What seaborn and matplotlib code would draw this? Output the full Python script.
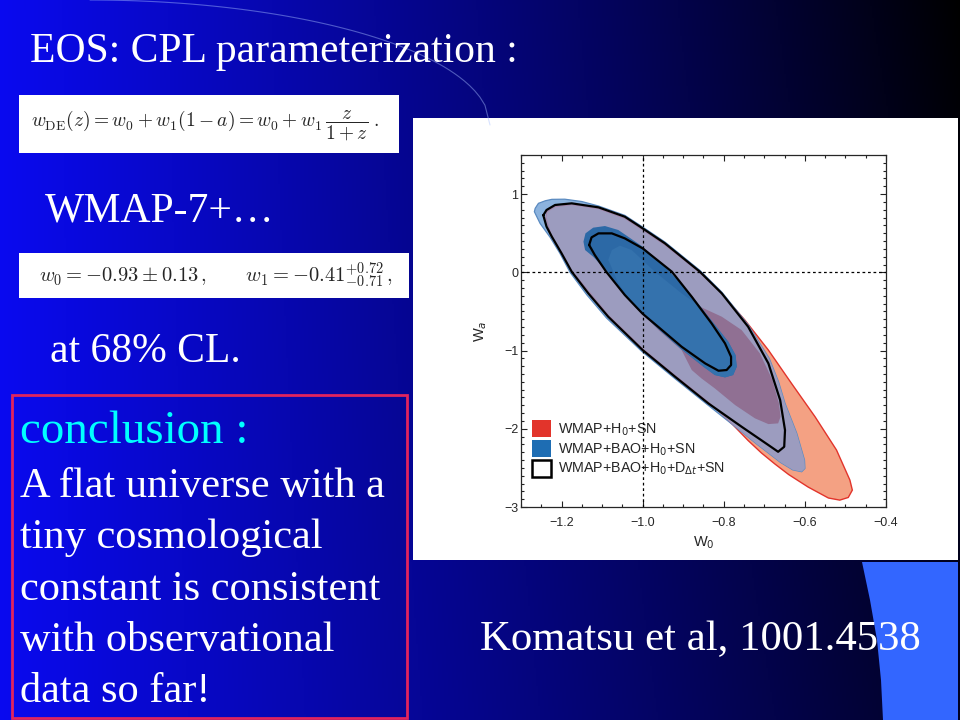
import numpy as np
import pandas as pd
import matplotlib
matplotlib.use("Agg")
import matplotlib.pyplot as plt
from matplotlib.patches import Patch, Rectangle, Polygon
from matplotlib.ticker import MultipleLocator
import seaborn as sns

sns.set_style("ticks")
plt.rcParams["font.family"] = ["Liberation Sans", "DejaVu Sans"]
SERIF = ["Liberation Serif", "DejaVu Serif"]

# ── Contours (w0, wa) ─────────────────────────────────────────────────────
# WMAP+H0+SN, 95% and 68%
red95_w0 = [-1.239, -1.236, -1.216, -1.175, -1.109, -1.044, -1.000, -0.945, -0.859, -0.805,
            -0.748, -0.690, -0.633, -0.575, -0.522, -0.489, -0.483, -0.493, -0.514, -0.542,
            -0.592, -0.640, -0.674, -0.707, -0.740, -0.781, -0.838, -0.920, -1.000, -1.085,
            -1.175, -1.224]
red95_wa = [0.700, 0.775, 0.839, 0.865, 0.814, 0.690, 0.541, 0.349, -0.005, -0.275,
            -0.610, -0.994, -1.420, -1.846, -2.272, -2.656, -2.784, -2.878, -2.912, -2.885,
            -2.745, -2.585, -2.450, -2.310, -2.150, -1.930, -1.659, -1.318, -0.977, -0.546,
            0.021, 0.447]
red68_w0 = [-1.085, -1.076, -1.056, -1.027, -0.970, -0.904, -0.855, -0.805, -0.756, -0.711,
            -0.680, -0.664, -0.660, -0.666, -0.690, -0.723, -0.772, -0.822, -0.855, -0.879,
            -0.904, -0.961, -1.019, -1.060, -1.081]
red68_wa = [0.157, 0.285, 0.341, 0.285, 0.008, -0.269, -0.448, -0.567, -0.738, -1.036,
            -1.377, -1.676, -1.846, -1.931, -1.940, -1.867, -1.697, -1.484, -1.356, -1.249,
            -0.994, -0.738, -0.439, -0.141, 0.115]

# WMAP+BAO+H0+SN, 95% and 68%
blue95_w0 = [-1.267, -1.265, -1.257, -1.240, -1.224, -1.192, -1.150, -1.109, -1.044, -1.000,
             -0.945, -0.859, -0.805, -0.740, -0.688, -0.665, -0.649, -0.620, -0.601, -0.600,
             -0.608, -0.630, -0.660, -0.690, -0.720, -0.758, -0.840, -0.922, -1.002, -1.089,
             -1.138, -1.179, -1.204, -1.228, -1.253]
blue95_wa = [0.775, 0.818, 0.882, 0.915, 0.933, 0.935, 0.905, 0.848, 0.728, 0.579,
             0.387, 0.025, -0.252, -0.670, -1.100, -1.400, -1.676, -2.059, -2.400, -2.507,
             -2.549, -2.525, -2.430, -2.310, -2.190, -2.030, -1.693, -1.352, -1.011, -0.584,
             -0.286, 0.000, 0.243, 0.447, 0.626]
blue68_w0 = [-1.146, -1.141, -1.122, -1.093, -1.060, -1.000, -0.935, -0.879, -0.828, -0.789,
             -0.771, -0.768, -0.777, -0.797, -0.822, -0.850, -0.904, -0.961, -1.000, -1.044,
             -1.085, -1.122, -1.142]
blue68_wa = [0.392, 0.498, 0.571, 0.592, 0.541, 0.328, 0.021, -0.299, -0.631, -0.887,
             -1.058, -1.207, -1.313, -1.343, -1.313, -1.207, -0.985, -0.725, -0.533, -0.299,
             -0.005, 0.200, 0.285]

# WMAP+BAO+H0+D_dt+SN, 95% and 68% (outlines only)
black95_w0 = [-1.245, -1.237, -1.216, -1.175, -1.109, -1.044, -1.000, -0.945, -0.859, -0.805,
              -0.740, -0.690, -0.661, -0.649, -0.651, -0.666, -0.690, -0.756, -0.838, -0.920,
              -1.000, -1.085, -1.134, -1.175, -1.200, -1.224, -1.237]
black95_wa = [0.730, 0.797, 0.861, 0.882, 0.831, 0.711, 0.562, 0.370, 0.008, -0.269,
              -0.695, -1.164, -1.633, -2.017, -2.230, -2.294, -2.208, -1.974, -1.676, -1.335,
              -0.994, -0.567, -0.269, 0.008, 0.243, 0.456, 0.584]
black68_w0 = [-1.132, -1.126, -1.109, -1.076, -1.044, -1.000, -0.928, -0.879, -0.830, -0.797,
              -0.782, -0.782, -0.793, -0.813, -0.846, -0.904, -0.961, -1.000, -1.044, -1.090,
              -1.118]
black68_wa = [0.349, 0.447, 0.498, 0.498, 0.434, 0.306, 0.008, -0.312, -0.653, -0.908,
              -1.079, -1.185, -1.249, -1.258, -1.164, -0.951, -0.700, -0.530, -0.290, 0.008,
              0.221]

legend_labels = ["WMAP+H$_0$+SN", "WMAP+BAO+H$_0$+SN", "WMAP+BAO+H$_0$+D$_{\\Delta t}$+SN"]
xtick_vals = [-1.2, -1.0, -0.8, -0.6, -0.4]
xtick_labels = ["\u22121.2", "\u22121.0", "\u22120.8", "\u22120.6", "\u22120.4"]
ytick_vals = [-3, -2, -1, 0, 1]
ytick_labels = ["\u22123", "\u22122", "\u22121", "0", "1"]

body_lines = ["A flat universe with a", "tiny cosmological", "constant is consistent",
              "with observational", "data so far!"]

# ── Colours ────────────────────────────────────────────────────────────────
SALMON = "#F4A183"
RED = "#E2342B"
LIGHTBLUE = "#8CB3DE"
LAVENDER = "#9C9CBF"
MAUVE = "#907093"
DARKBLUE = "#2C69A6"
MIDBLUE = "#3472AD"
BLUE_EDGE = "#5A8AC0"

# ── Slide background ───────────────────────────────────────────────────────
fig = plt.figure(figsize=(9.6, 7.2), dpi=100)
bg = fig.add_axes([0, 0, 1, 1])
gx, gy = np.meshgrid(np.linspace(0, 1, 480), np.linspace(0, 1, 360))
top = np.clip(1 - gx, 0, 1) ** 0.95
bot = 1 - 0.85 * gx
b = (top * (1 - gy) + bot * gy) * 0.94
bg.imshow(np.dstack([0.04 * b, 0.04 * b, b]), extent=(0, 960, 720, 0), aspect="auto")
bg.set_xlim(0, 960)
bg.set_ylim(720, 0)
bg.axis("off")

# decorative corner shape and arc
bg.add_patch(Polygon([(862, 562), (870, 600), (877, 640), (881, 680), (883, 720),
                      (958, 720), (958, 562)], closed=True, color="#3366FF", lw=0))
arc_t = np.linspace(0, 1, 80)
bg.plot(90 + 400 * arc_t, 125 * (1 - np.sqrt(1 - arc_t ** 2)), color="#A8C0FF", lw=0.8, alpha=0.45)

# text and formula boxes
bg.text(30, 62, "EOS: CPL parameterization :", color="white", fontsize=30, family=SERIF)
bg.add_patch(Rectangle((19, 95), 380, 58, color="white", lw=0))
bg.text(205, 125, r"$w_{\rm DE}(z) = w_0 + w_1(1-a) = w_0 + w_1\,\dfrac{z}{1+z}\;.$",
        fontsize=14, ha="center", va="center", math_fontfamily="cm")
bg.text(45, 221, "WMAP-7+\u2026", color="white", fontsize=30, family=SERIF)
bg.add_patch(Rectangle((19, 253), 390, 45, color="white", lw=0))
bg.text(216, 275, r"$w_0 = -0.93 \pm 0.13\,, \qquad w_1 = -0.41^{+0.72}_{-0.71}\,,$",
        fontsize=14.8, ha="center", va="center", math_fontfamily="cm")
bg.text(50, 362, "at 68% CL.", color="white", fontsize=30, family=SERIF)

bg.add_patch(Rectangle((12, 395), 395, 323, facecolor="none", edgecolor="#E0245E", lw=2))
bg.text(20, 443, "conclusion :", color="#00FFFF", fontsize=33.8, family=SERIF)
for i, line in enumerate(body_lines):
    bg.text(20, 497 + 51.3 * i, line, color="white", fontsize=30.5, family=SERIF)

bg.text(480, 650, "Komatsu et al, 1001.4538", color="white", fontsize=30.8, family=SERIF)

# white panel behind the figure
bg.add_patch(Rectangle((413, 118), 545, 442, color="white", lw=0))

# ── Contour plot ───────────────────────────────────────────────────────────
ax = fig.add_axes([521 / 960, 1 - 507 / 720, 365 / 960, 352 / 720])
ax.set_facecolor("white")

red95 = ax.fill(red95_w0, red95_wa, facecolor=SALMON, edgecolor=RED, lw=1.0, zorder=1)[0]
blue95 = ax.fill(blue95_w0, blue95_wa, facecolor=LIGHTBLUE, edgecolor=BLUE_EDGE, lw=0.9, zorder=2)[0]
lav = ax.fill(red95_w0, red95_wa, facecolor=LAVENDER, edgecolor="#A680A4", lw=0.7, zorder=3)[0]
lav.set_clip_path(blue95)
mauve = ax.fill(red68_w0, red68_wa, facecolor=MAUVE, lw=0, zorder=4)[0]
mauve.set_clip_path(blue95)
blue68 = ax.fill(blue68_w0, blue68_wa, facecolor=DARKBLUE, lw=0, zorder=5)[0]
mid = ax.fill(red68_w0, red68_wa, facecolor=MIDBLUE, lw=0, zorder=6)[0]
mid.set_clip_path(blue68)

for w0, wa in [(black95_w0, black95_wa), (black68_w0, black68_wa)]:
    loop = pd.DataFrame({"w0": w0 + w0[:1], "wa": wa + wa[:1]})
    sns.lineplot(data=loop, x="w0", y="wa", sort=False, estimator=None,
                 color="black", lw=1.6, ax=ax, zorder=7)

ax.axvline(-1.0, color="black", ls=(0, (2.2, 2.2)), lw=0.9, zorder=8)
ax.axhline(0.0, color="black", ls=(0, (2.2, 2.2)), lw=0.9, zorder=8)

ax.set_xlim(-1.3, -0.4)
ax.set_ylim(-3, 1.5)
ax.set_xticks(xtick_vals)
ax.set_xticklabels(xtick_labels)
ax.set_yticks(ytick_vals)
ax.set_yticklabels(ytick_labels)
ax.xaxis.set_minor_locator(MultipleLocator(0.05))
ax.yaxis.set_minor_locator(MultipleLocator(0.1))
ax.tick_params(which="both", direction="in", top=True, right=True, width=0.8,
               labelsize=9, color="#222222")
ax.tick_params(which="major", length=4.5)
ax.tick_params(which="minor", length=2.5)
ax.tick_params(axis="x", which="major", pad=7)
ax.tick_params(axis="y", which="major", pad=2)
for sp in ax.spines.values():
    sp.set_linewidth(0.9)
ax.set_xlabel("W$_0$", fontsize=10.5, labelpad=4)
ax.set_ylabel("W$_a$", fontsize=10.5, labelpad=11)

handles = [Patch(facecolor=RED, edgecolor="none"),
           Patch(facecolor="#1E6DB3", edgecolor="none"),
           Patch(facecolor="white", edgecolor="black", lw=1.8)]
ax.legend(handles, legend_labels, loc="upper left", bbox_to_anchor=(0.019, 0.2585),
          frameon=False, fontsize=10.3, handlelength=1.33, handleheight=1.4,
          handletextpad=0.5, labelspacing=0.17, borderpad=0.3, borderaxespad=0.0)

fig.savefig("out.png", dpi=100)
